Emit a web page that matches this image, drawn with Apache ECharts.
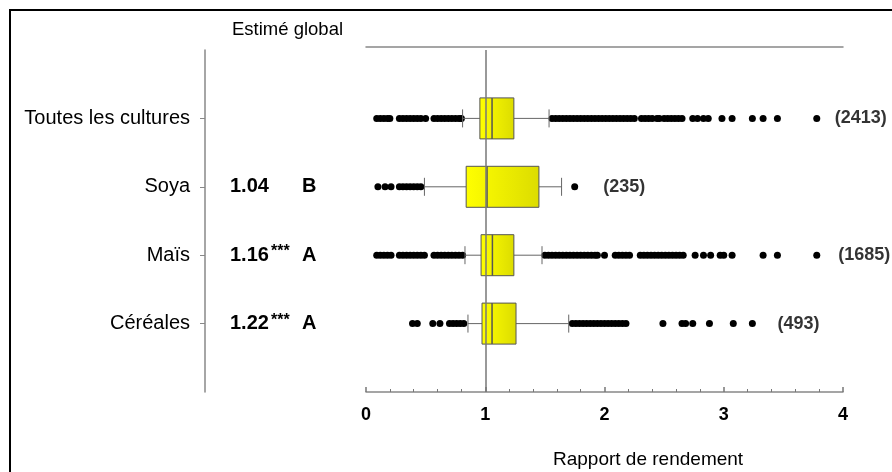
<!DOCTYPE html>
<html lang="fr">
<head>
    <meta charset="UTF-8">
    <title>Rapport de rendement</title>
    <script src="https://cdn.jsdelivr.net/npm/echarts@6/dist/echarts.min.js"></script>
    <style>
        * {
            margin: 0;
            padding: 0
        }

        html, body {
            width: 100%;
            height: 100%;
            background: #fff;
        }

        #main {
            width: 892px;
            height: 472px;
        }
    </style>
</head>
<body>
<div id="main"></div>
<script type="text/javascript">
    /*-------------------- données -----------------------------*/
    var cultures = ['Toutes les cultures', 'Soya', 'Maïs', 'Céréales'];
    var estimes = ['', '1.04', '1.16', '1.22'];
    var etoiles = ['', '', '***', '***'];
    var groupes = ['', 'B', 'A', 'A'];
    var effectifs = ['(2413)', '(235)', '(1685)', '(493)'];

    // moustache basse, Q1, médiane, Q3, moustache haute
    var basses = [0.81, 0.49, 0.83, 0.855];
    var q1 = [0.955, 0.84, 0.965, 0.973];
    var medianes = [1.057, 1.015, 1.06, 1.057];
    var q3 = [1.24, 1.45, 1.24, 1.258];
    var hautes = [1.535, 1.64, 1.476, 1.70];

    // valeurs extrêmes
    var extTous = [0.09, 0.12, 0.15, 0.18, 0.20, 0.28, 0.31, 0.34, 0.37, 0.40, 0.43, 0.46, 0.50,
        0.57, 0.60, 0.63, 0.66, 0.69, 0.72, 0.75, 0.78, 0.80,
        1.56, 1.59, 1.62, 1.65, 1.68, 1.71, 1.74, 1.77, 1.80, 1.83, 1.86, 1.89, 1.92, 1.95, 1.98,
        2.01, 2.04, 2.07, 2.10, 2.13, 2.16, 2.19, 2.22, 2.25,
        2.31, 2.34, 2.37, 2.40, 2.44, 2.46, 2.50, 2.53, 2.56, 2.59, 2.62, 2.65,
        2.74, 2.78, 2.83, 2.87, 2.985, 3.07, 3.24, 3.33, 3.45, 3.78];
    var extSoya = [0.10, 0.16, 0.21, 0.28, 0.31, 0.34, 0.37, 0.40, 0.43, 0.46, 1.75];
    var extMais = [0.09, 0.12, 0.15, 0.18, 0.21, 0.28, 0.31, 0.34, 0.37, 0.40, 0.43, 0.46, 0.49,
        0.57, 0.60, 0.63, 0.66, 0.69, 0.72, 0.75, 0.78, 0.81,
        1.50, 1.53, 1.56, 1.59, 1.62, 1.65, 1.68, 1.71, 1.74, 1.77, 1.80, 1.83, 1.86, 1.89, 1.92, 1.94,
        2.00, 2.09, 2.12, 2.15, 2.18, 2.21,
        2.30, 2.33, 2.36, 2.39, 2.42, 2.45, 2.48, 2.51, 2.54, 2.57, 2.60, 2.63, 2.66,
        2.76, 2.83, 2.89, 2.97, 3.00, 3.07, 3.33, 3.45, 3.78];
    var extCereales = [0.39, 0.43, 0.56, 0.62, 0.70, 0.73, 0.76, 0.79, 0.82,
        1.73, 1.76, 1.79, 1.82, 1.85, 1.88, 1.91, 1.94, 1.97, 2.00, 2.03, 2.06, 2.09, 2.12, 2.15, 2.18,
        2.49, 2.65, 2.68, 2.74, 2.88, 3.08, 3.24];

    var xTicks = [0, 1, 2, 3, 4];

    /*-------------------- mise en forme -----------------------------*/
    var police = 'Liberation Sans, Arial, sans-serif';
    var posEffectifs = [3.93, 1.99, 3.96, 3.45];   // où commence le texte des effectifs

    // catégories avec une case vide en haut et en bas
    var cats = [' '].concat(cultures).concat(['  ']);

    var boites = cultures.map(function (c, i) {
        return [i + 1, basses[i], q1[i], medianes[i], q3[i], hautes[i]];
    });
    var points = [];
    [extTous, extSoya, extMais, extCereales].forEach(function (arr, i) {
        arr.forEach(function (v) {
            points.push([v, i + 1]);
        });
    });
    var etiquettes = effectifs.map(function (t, i) {
        return {value: [posEffectifs[i], i + 1], label: {formatter: t}};
    });

    var chart = echarts.init(document.getElementById('main'), null, {renderer: 'canvas'});
    chart.setOption({
        animation: false,
        backgroundColor: '#fff',
        textStyle: {fontFamily: police},
        graphic: [{
            type: 'rect',
            shape: {x: 10, y: 10, width: 900, height: 500},
            style: {fill: 'none', stroke: '#000', lineWidth: 2},
            silent: true
        }],
        title: [{
            text: 'Estimé global',
            left: 232, top: 20, padding: 0,
            textStyle: {fontSize: 18.5, fontWeight: 'normal', color: '#000', fontFamily: police}
        }, {
            text: 'Rapport de rendement',
            left: 553, top: 450, padding: 0,
            textStyle: {fontSize: 19, fontWeight: 'normal', color: '#000', fontFamily: police}
        }],
        grid: {left: 366, right: 49, top: 50, bottom: 80},
        xAxis: [{
            type: 'value',
            min: 0, max: 4, interval: 1,
            axisLine: {show: true, onZero: false, lineStyle: {color: '#888', width: 1.5}},
            axisTick: {show: true, inside: true, length: 5, lineStyle: {color: '#777', width: 1.5}},
            minorTick: {show: true, splitNumber: 5, length: 3, lineStyle: {color: '#777', width: 1}},
            splitLine: {show: false},
            axisLabel: {
                margin: 14, color: '#000', fontSize: 18, fontWeight: 'bold', fontFamily: police,
                formatter: function (v) {
                    return xTicks.indexOf(v) >= 0 ? String(v) : '';
                }
            }
        }, {
            type: 'value',
            position: 'top', offset: 3,
            min: 0, max: 4,
            axisLine: {show: true, onZero: false, lineStyle: {color: '#888', width: 1.5}},
            axisTick: {show: false},
            axisLabel: {show: false},
            splitLine: {show: false}
        }],
        yAxis: [{
            type: 'category',
            data: cats,
            inverse: true,
            boundaryGap: false,
            offset: 161,
            axisLine: {onZero: false, lineStyle: {color: '#888', width: 1.5}},
            axisTick: {
                length: 5, lineStyle: {color: '#888'},
                interval: function (i) {
                    return i > 0 && i < cats.length - 1;
                }
            },
            axisLabel: {interval: 0, margin: 15, color: '#000', fontSize: 20, fontFamily: police}
        }, {
            type: 'category',
            data: cats,
            inverse: true,
            boundaryGap: false,
            position: 'left',
            offset: 36,
            axisLine: {show: false, onZero: false},
            axisTick: {show: false},
            axisLabel: {
                interval: 0, margin: 100, align: 'left',
                formatter: function (v, i) {
                    var k = i - 1;
                    if (k < 0 || k >= cultures.length || !estimes[k]) return '';
                    return '{v|' + estimes[k] + '}{s|' + (etoiles[k] || ' ') + '}{g|' + groupes[k] + '}';
                },
                rich: {
                    v: {fontSize: 20, fontWeight: 'bold', color: '#000', width: 41, fontFamily: police},
                    s: {fontSize: 16, fontWeight: 'bold', color: '#000', width: 31, padding: [0, 0, 7, 0], fontFamily: police},
                    g: {fontSize: 20, fontWeight: 'bold', color: '#000', fontFamily: police}
                }
            }
        }],
        series: [{
            type: 'scatter',
            name: 'effectifs',
            data: etiquettes,
            symbolSize: 0,
            z: 1,
            silent: true,
            label: {
                show: true, position: 'right', distance: 0,
                color: '#000', fontSize: 18, fontWeight: 'bold', fontFamily: police
            },
            markLine: {
                silent: true,
                symbol: 'none',
                label: {show: false},
                lineStyle: {color: '#777', width: 1.5, type: 'solid'},
                data: [{xAxis: 1}]
            }
        }, {
            type: 'scatter',
            name: 'extrêmes',
            data: points,
            symbolSize: 7,
            itemStyle: {color: '#000', opacity: 1},
            z: 2,
            silent: true
        }, {
            type: 'custom',
            name: 'boîtes',
            data: boites,
            encode: {x: [1, 2, 3, 4, 5], y: 0},
            z: 3,
            silent: true,
            renderItem: function (params, api) {
                var r = api.value(0);
                var lo = api.coord([api.value(1), r]);
                var a = api.coord([api.value(2), r]);
                var md = api.coord([api.value(3), r]);
                var b = api.coord([api.value(4), r]);
                var hi = api.coord([api.value(5), r]);
                var cy = lo[1], h = 20.5, c = 9;
                var gris = {stroke: '#666', lineWidth: 1};
                return {
                    type: 'group',
                    children: [
                        {type: 'line', shape: {x1: lo[0], y1: cy, x2: a[0], y2: cy}, style: gris},
                        {type: 'line', shape: {x1: b[0], y1: cy, x2: hi[0], y2: cy}, style: gris},
                        {type: 'line', shape: {x1: lo[0], y1: cy - c, x2: lo[0], y2: cy + c}, style: gris},
                        {type: 'line', shape: {x1: hi[0], y1: cy - c, x2: hi[0], y2: cy + c}, style: gris},
                        {
                            type: 'rect',
                            shape: {x: a[0], y: cy - h, width: b[0] - a[0], height: 2 * h},
                            style: {
                                fill: new echarts.graphic.LinearGradient(0, 0, 1, 0, [
                                    {offset: 0, color: '#ffff00'},
                                    {offset: 1, color: '#dcdc00'}
                                ]),
                                stroke: '#555', lineWidth: 1
                            }
                        },
                        {type: 'line', shape: {x1: md[0], y1: cy - h, x2: md[0], y2: cy + h}, style: {stroke: '#555', lineWidth: 1.5}}
                    ]
                };
            }
        }]
    });
</script>

</body>
</html>
